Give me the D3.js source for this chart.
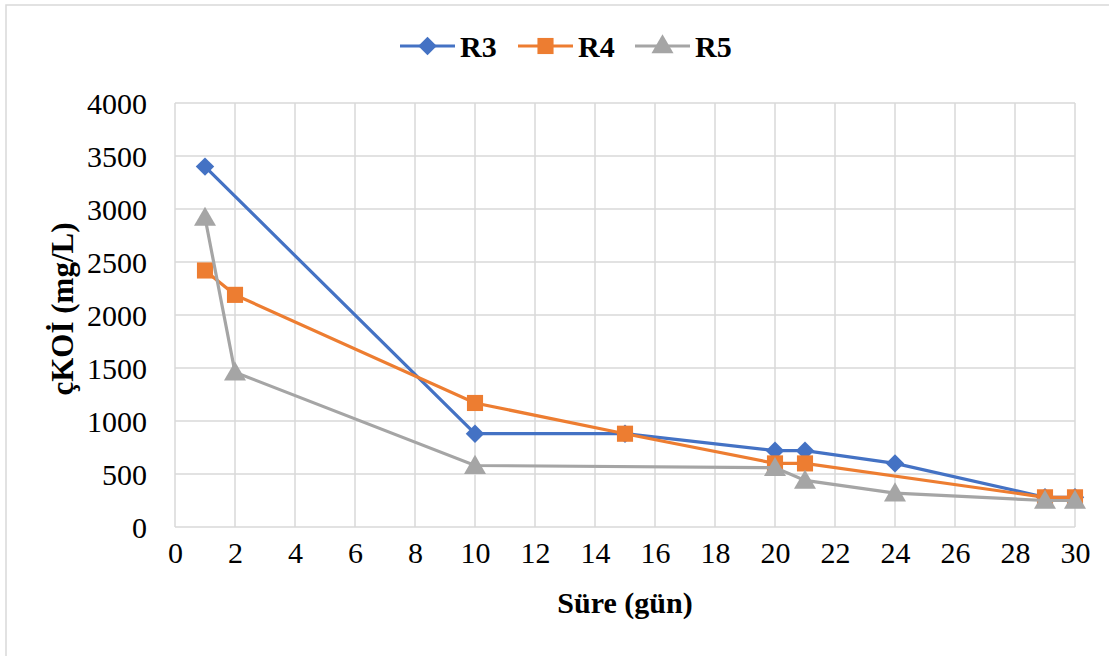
<!DOCTYPE html>
<html>
<head>
<meta charset="utf-8">
<script src="https://cdn.jsdelivr.net/npm/d3@7"></script>
<style>
  body { margin: 0; background: #fff; }
</style>
</head>
<body>
<div class="chart"></div>
<script>
var width = 1109,
    height = 656;
var serif = "Liberation Serif";

// data
var r3Days = [1, 10, 15, 20, 21, 24, 29, 30];
var r3 = [3400, 880, 880, 720, 720, 600, 280, 280];
var r4Days = [1, 2, 10, 15, 20, 21, 29, 30];
var r4 = [2420, 2190, 1170, 880, 600, 600, 280, 280];
var r5Days = [1, 2, 10, 20, 21, 24, 29, 30];
var r5 = [2920, 1460, 580, 560, 440, 320, 250, 250];
var seriesNames = ["R3", "R4", "R5"];
var xTicks = d3.range(0, 31, 2);
var yTicks = d3.range(0, 4001, 500);

var colors = ["#4472C4", "#ED7D31", "#A5A5A5"];
var shapes = [d3.symbolSquare, d3.symbolSquare, d3.symbolTriangle];
var sizes = [170, 260, 210];
var rot = [45, 0, 0];

var series = [
  {name: seriesNames[0], pts: r3Days.map((d, i) => ({x: d, y: r3[i]}))},
  {name: seriesNames[1], pts: r4Days.map((d, i) => ({x: d, y: r4[i]}))},
  {name: seriesNames[2], pts: r5Days.map((d, i) => ({x: d, y: r5[i]}))}
];

var margin = {left: 175, right: 34, top: 103, bottom: 129};

var svg = d3.select(".chart").append("svg")
    .attr("width", width)
    .attr("height", height);

function boldText(sel, size) {
  sel.attr("font-family", serif)
     .style("font-family", serif)
     .attr("font-size", size)
     .attr("font-weight", "bold")
     .attr("fill", "#000");
}

// outer frame
svg.append("rect")
    .attr("x", 6).attr("y", 5)
    .attr("width", width + 10).attr("height", height + 10)
    .attr("fill", "#fff")
    .attr("stroke", "#D9D9D9")
    .attr("stroke-width", 1.5);

var x = d3.scaleLinear().domain([0, 30]).range([margin.left, width - margin.right]);
var y = d3.scaleLinear().domain([0, 4000]).range([height - margin.bottom, margin.top]);

// grid
var grid = svg.append("g").attr("class", "grid");
grid.selectAll(".h").data(yTicks).enter().append("line")
    .attr("x1", x(0)).attr("x2", x(30))
    .attr("y1", d => y(d)).attr("y2", d => y(d))
    .attr("stroke", "#D9D9D9").attr("stroke-width", 1.5);
grid.selectAll(".v").data(xTicks).enter().append("line")
    .attr("x1", d => x(d)).attr("x2", d => x(d))
    .attr("y1", y(0)).attr("y2", y(4000))
    .attr("stroke", "#D9D9D9").attr("stroke-width", 1.5);

// axes (labels only)
var yAxis = svg.append("g")
    .attr("transform", "translate(" + (x(0) - 28) + ",0)")
    .call(d3.axisLeft(y).tickValues(yTicks).tickFormat(d3.format("d")).tickSize(0).tickPadding(0));
yAxis.select(".domain").remove();
yAxis.attr("font-family", serif);
yAxis.selectAll("text").attr("font-size", 30).attr("dy", "0.35em")
    .style("font-family", serif).attr("fill", "#000");

var xAxis = svg.append("g")
    .attr("transform", "translate(0," + (y(0) + 13) + ")")
    .call(d3.axisBottom(x).tickValues(xTicks).tickFormat(d3.format("d")).tickSize(0).tickPadding(0));
xAxis.select(".domain").remove();
xAxis.attr("font-family", serif);
xAxis.selectAll("text").attr("font-size", 30).attr("dy", "0.75em")
    .style("font-family", serif).attr("fill", "#000");

// axis titles
svg.append("text")
    .attr("x", x(15)).attr("y", 613)
    .attr("text-anchor", "middle")
    .call(boldText, 30)
    .text("Süre (gün)");

svg.append("text")
    .attr("transform", "translate(73," + ((y(0) + y(4000)) / 2 - 6) + ") rotate(-90)")
    .attr("text-anchor", "middle")
    .call(boldText, 31)
    .text("çKOİ (mg/L)");

// lines and markers
var line = d3.line().x(d => x(d.x)).y(d => y(d.y));

series.forEach(function(s, i) {
  var g = svg.append("g").attr("class", "series");
  g.append("path")
      .datum(s.pts)
      .attr("d", line)
      .attr("fill", "none")
      .attr("stroke", colors[i])
      .attr("stroke-width", 3.2);
  g.selectAll("path.mark")
      .data(s.pts)
      .enter().append("path")
      .attr("class", "mark")
      .attr("d", d3.symbol().type(shapes[i]).size(sizes[i]))
      .attr("fill", colors[i])
      .attr("transform", d => "translate(" + x(d.x) + "," + (y(d.y) + (i == 2 ? 2 : 0)) + ") rotate(" + rot[i] + ")");
});

// legend
var legendX = [400, 518, 635];
var legend = svg.append("g").attr("class", "legend");
seriesNames.forEach(function(n, i) {
  var lg = legend.append("g").attr("transform", "translate(" + legendX[i] + ",46)");
  lg.append("line").attr("x1", 0).attr("x2", 55)
      .attr("stroke", colors[i]).attr("stroke-width", 3.2);
  lg.append("path")
      .attr("d", d3.symbol().type(shapes[i]).size(sizes[i]))
      .attr("fill", colors[i])
      .attr("transform", "translate(27.5," + (i == 2 ? 1 : 0) + ") rotate(" + rot[i] + ")");
  lg.append("text")
      .attr("x", 60).attr("y", 11)
      .call(boldText, 30)
      .text(n);
});
</script>
</body>
</html>
